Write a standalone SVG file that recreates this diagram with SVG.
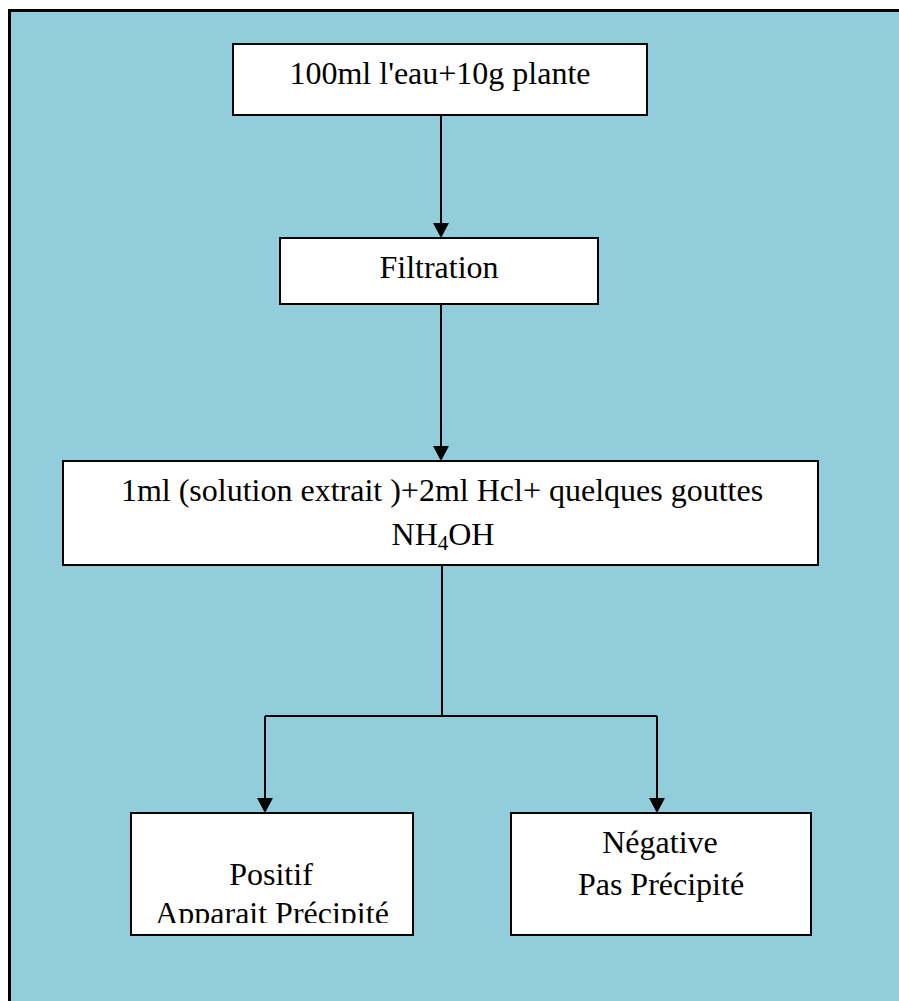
<svg xmlns="http://www.w3.org/2000/svg" width="899" height="1001" viewBox="0 0 899 1001">
  <style>
    .box { fill: #ffffff; stroke: #000000; stroke-width: 2; }
    .lbl { font-family: "Liberation Serif", "Times New Roman", serif; font-size: 32px; fill: #000000; text-anchor: middle; }
    .wire { fill: none; stroke: #000000; stroke-width: 2; }
  </style>
  <defs>
    <marker id="arrow" markerUnits="userSpaceOnUse" markerWidth="16" markerHeight="16" viewBox="0 0 16 16" refX="8" refY="16" orient="auto-start-reverse">
      <path d="M0,1 L16,1 L8,16 Z" fill="#000000" transform="rotate(0)"/>
    </marker>
    <clipPath id="clipPositif">
      <rect x="131" y="814" width="281" height="109"/>
    </clipPath>
  </defs>

  <!-- panel -->
  <rect x="9.5" y="10.5" width="900" height="1000" fill="#92cddb" stroke="#000000" stroke-width="3"/>

  <!-- connectors -->
  <g id="connectors">
    <path class="wire" d="M441,115 V223"/>
    <path d="M433,223 L449,223 L441,238 Z" fill="#000"/>
    <path class="wire" d="M441,304 V446"/>
    <path d="M433,446 L449,446 L441,461 Z" fill="#000"/>
    <path class="wire" d="M442,565 V716 M265,716 H657 M265,716 V798 M657,716 V798"/>
    <path d="M257,798 L273,798 L265,813 Z" fill="#000"/>
    <path d="M649,798 L665,798 L657,813 Z" fill="#000"/>
  </g>

  <g id="node-melange">
    <rect class="box" x="233" y="44" width="414" height="71"/>
    <text class="lbl" x="440" y="84">100ml l'eau+10g plante</text>
  </g>

  <g id="node-filtration">
    <rect class="box" x="280" y="238" width="318" height="66"/>
    <text class="lbl" x="439" y="278">Filtration</text>
  </g>

  <g id="node-reactif">
    <rect class="box" x="63" y="461" width="755" height="104"/>
    <text class="lbl" x="442" y="501">1ml (solution extrait )+2ml Hcl+ quelques gouttes</text>
    <text class="lbl" x="443" y="545">NH<tspan font-size="21" dy="5">4</tspan><tspan dy="-5">OH</tspan></text>
  </g>

  <g id="node-positif">
    <rect class="box" x="131" y="813" width="282" height="122"/>
    <g clip-path="url(#clipPositif)">
      <text class="lbl" x="271" y="885">Positif</text>
      <text class="lbl" x="272" y="924">Apparait Précipité</text>
    </g>
  </g>

  <g id="node-negative">
    <rect class="box" x="511" y="813" width="300" height="122"/>
    <text class="lbl" x="660" y="853">Négative</text>
    <text class="lbl" x="661" y="895">Pas Précipité</text>
  </g>
</svg>
